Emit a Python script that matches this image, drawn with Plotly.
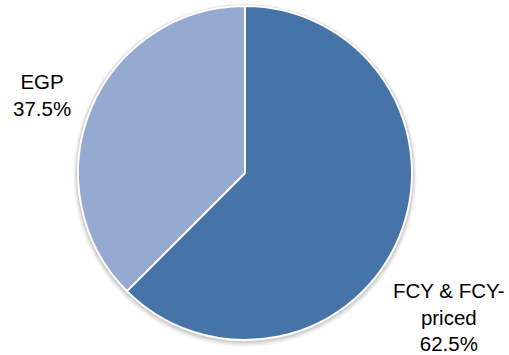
import plotly.graph_objects as go

# Currency composition
labels = ["FCY & FCY-<br>priced", "EGP"]
shares = [62.5, 37.5]
colors = ["#4673A8", "#96AAD1"]

W, H = 509, 355
cx, cy, r = 245.0, 173.0, 167.0  # pie centre and radius, px

fig = go.Figure()

fig.add_trace(go.Pie(
    labels=labels,
    values=shares,
    sort=False,
    direction="clockwise",
    rotation=0,
    marker=dict(colors=colors, line=dict(color="white", width=2)),
    textinfo="none",
    hoverinfo="label+percent",
    showlegend=False,
    domain=dict(x=[(cx - r) / W, (cx + r) / W],
                y=[1 - (cy + r) / H, 1 - (cy - r) / H]),
))

# soft drop shadow ring behind the pie
for extra, dy, op in [(5, 2, 0.04), (4, 2, 0.06), (3, 1.5, 0.09), (2, 1, 0.13)]:
    rr = r + extra
    fig.add_shape(
        type="circle", xref="paper", yref="paper", layer="below",
        x0=(cx - rr) / W, x1=(cx + rr) / W,
        y0=1 - (cy + dy + rr) / H, y1=1 - (cy + dy - rr) / H,
        fillcolor=f"rgba(90,90,90,{op})", line=dict(width=0),
    )

font = dict(family="Liberation Sans, Arial, sans-serif", size=20.5, color="#000000")

# slice labels
label_pos = {"EGP": (42, 95), "FCY & FCY-<br>priced": (449, 317)}
for lab, val in zip(labels, shares):
    x, y = label_pos[lab]
    fig.add_annotation(
        text=f"{lab}<br>{val:.1f}%", x=x / W, y=1 - y / H,
        xref="paper", yref="paper", showarrow=False,
        xanchor="center", yanchor="middle", align="center", font=font,
    )

fig.update_layout(
    width=W, height=H,
    margin=dict(l=0, r=0, t=0, b=0),
    paper_bgcolor="white", plot_bgcolor="white",
)

fig.write_html("out.html")
